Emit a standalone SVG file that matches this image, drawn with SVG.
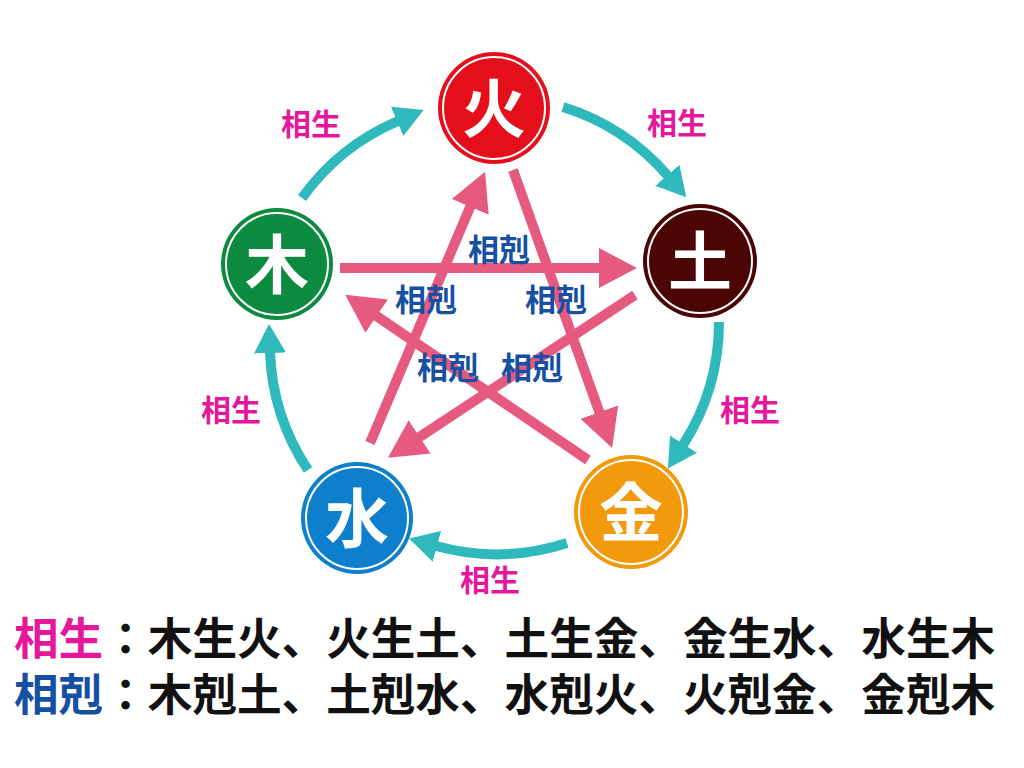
<svg xmlns="http://www.w3.org/2000/svg" width="1024" height="768" viewBox="0 0 1024 768">
  <style>
    text { font-family: "Noto Sans CJK JP", "Noto Sans CJK SC", sans-serif; font-weight: 700; }
    .node-ring { fill: none; stroke: #ffffff; stroke-width: 2; }
    .node-label { fill: #ffffff; font-size: 64px; text-anchor: middle; }
    .sheng { stroke: #2fb9bd; stroke-width: 10; fill: none; }
    .ke { stroke: #e65a80; stroke-width: 10; fill: none; }
    .sheng-label { fill: #e5179a; font-size: 30px; text-anchor: middle; }
    .ke-label { fill: #1650a2; font-size: 31px; text-anchor: middle; }
    .legend { font-size: 44.6px; fill: #111111; }
  </style>
  <defs>
    <marker id="arrow-sheng" markerUnits="userSpaceOnUse" markerWidth="32" markerHeight="34" refX="1" refY="17" orient="auto">
      <path d="M0,1 L29,17 L0,33 z" fill="#2fb9bd"/>
    </marker>
    <marker id="arrow-ke" markerUnits="userSpaceOnUse" markerWidth="40" markerHeight="44" refX="2" refY="22" orient="auto">
      <path d="M0,2 L38,22 L0,42 z" fill="#e65a80"/>
    </marker>
  </defs>
  <rect width="1024" height="768" fill="#ffffff"/>

  <g id="connectors">
    <!-- 相生 (generating) arcs -->
    <path class="sheng" d="M302,198 A228,228 0 0 1 398,121" marker-end="url(#arrow-sheng)"/>
    <path class="sheng" d="M563,107 A228,228 0 0 1 668,176" marker-end="url(#arrow-sheng)"/>
    <path class="sheng" d="M719,322 A228,228 0 0 1 683,445" marker-end="url(#arrow-sheng)"/>
    <path class="sheng" d="M567,543 A228,228 0 0 1 436,546" marker-end="url(#arrow-sheng)"/>
    <path class="sheng" d="M308,470 A228,228 0 0 1 270,352" marker-end="url(#arrow-sheng)"/>
    <!-- 相剋 (overcoming) star -->
    <line class="ke" x1="340" y1="268" x2="601" y2="268" marker-end="url(#arrow-ke)"/>
    <line class="ke" x1="635" y1="295" x2="418" y2="438" marker-end="url(#arrow-ke)"/>
    <line class="ke" x1="370" y1="443" x2="471" y2="205" marker-end="url(#arrow-ke)"/>
    <line class="ke" x1="513" y1="170" x2="600" y2="414" marker-end="url(#arrow-ke)"/>
    <line class="ke" x1="588" y1="460" x2="375" y2="315" marker-end="url(#arrow-ke)"/>
  </g>

  <g id="labels-sheng">
    <text class="sheng-label" x="311" y="135">相生</text>
    <text class="sheng-label" x="677" y="134">相生</text>
    <text class="sheng-label" x="750" y="421">相生</text>
    <text class="sheng-label" x="231" y="421">相生</text>
    <text class="sheng-label" x="490" y="591">相生</text>
  </g>
  <g id="labels-ke">
    <text class="ke-label" x="499" y="261">相剋</text>
    <text class="ke-label" x="426" y="311">相剋</text>
    <text class="ke-label" x="556" y="311">相剋</text>
    <text class="ke-label" x="448" y="379">相剋</text>
    <text class="ke-label" x="532" y="379">相剋</text>
  </g>

  <g id="node-fire">
    <circle cx="494" cy="108" r="56" fill="#e50f1c"/>
    <circle class="node-ring" cx="494" cy="108" r="51"/>
    <text class="node-label" x="494" y="132">火</text>
  </g>
  <g id="node-earth">
    <circle cx="700" cy="261" r="57" fill="#4b0505"/>
    <circle class="node-ring" cx="700" cy="261" r="52"/>
    <text class="node-label" x="700" y="285">土</text>
  </g>
  <g id="node-metal">
    <circle cx="631" cy="512" r="57" fill="#f2990c"/>
    <circle class="node-ring" cx="631" cy="512" r="52"/>
    <text class="node-label" x="631" y="536">金</text>
  </g>
  <g id="node-water">
    <circle cx="357" cy="518" r="56" fill="#0d7fcc"/>
    <circle class="node-ring" cx="357" cy="518" r="51"/>
    <text class="node-label" x="357" y="542">水</text>
  </g>
  <g id="node-wood">
    <circle cx="277" cy="264" r="56" fill="#0b8a40"/>
    <circle class="node-ring" cx="277" cy="264" r="51"/>
    <text class="node-label" x="277" y="288">木</text>
  </g>

  <g id="legend">
    <text class="legend" x="14" y="655"><tspan fill="#e5179a">相生</tspan>：木生火、火生土、土生金、金生水、水生木</text>
    <text class="legend" x="14" y="711"><tspan fill="#1650a2">相剋</tspan>：木剋土、土剋水、水剋火、火剋金、金剋木</text>
  </g>
</svg>
